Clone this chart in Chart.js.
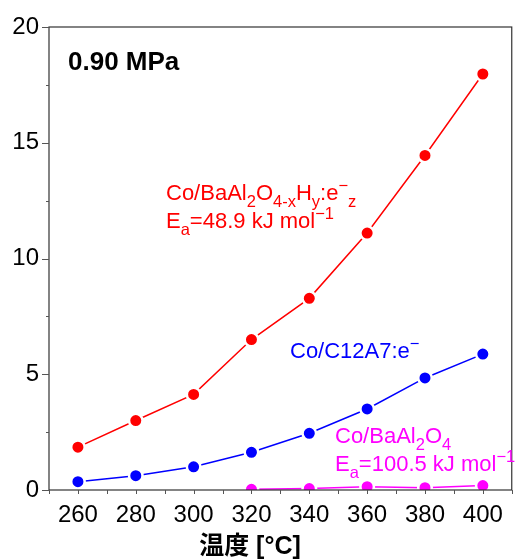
<!DOCTYPE html>
<html>
<head>
<meta charset="utf-8">
<script src="https://cdn.jsdelivr.net/npm/chart.js@4"></script>
<style>
  body { margin: 0; background: #fff; }
  #wrap { width: 521px; height: 560px; }
</style>
</head>
<body>
<div id="wrap"><canvas id="graph" width="521" height="560"></canvas></div>
<script>
const ctx = document.getElementById('graph').getContext('2d');

// Data
const temps = [260, 280, 300, 320, 340, 360, 380, 400];
const hydrideVals = [1.85, 3.0, 4.13, 6.5, 8.28, 11.1, 14.45, 17.97];   // Co/BaAl2O4-xHy:e-z
const c12a7Vals = [0.36, 0.62, 1.0, 1.63, 2.45, 3.5, 4.84, 5.87];       // Co/C12A7:e-
const oxideTemps = [320, 340, 360, 380, 400];
const oxideVals = [0.03, 0.06, 0.14, 0.1, 0.19];                          // Co/BaAl2O4
const xTicks = [260, 280, 300, 320, 340, 360, 380, 400];
const yTicks = [0, 5, 10, 15, 20];

const FONT = '"Liberation Sans", Arial, "Noto Sans CJK JP", sans-serif';

function pts(xs, ys) {
    return xs.map((x, i) => ({ x: x, y: ys[i] }));
}

function series(label, data, color) {
    return {
        label: label,
        data: data,
        borderColor: color,
        backgroundColor: color,
        borderWidth: 1.5,
        pointRadius: 6.75,
        pointBorderWidth: 2.5,
        pointBorderColor: '#fff',
        pointBackgroundColor: color,
        tension: 0,
    };
}

// draws text with sub / superscript runs
function drawRich(c, x, y, parts, color, size) {
    let cx = x;
    c.fillStyle = color;
    c.textBaseline = 'alphabetic';
    c.textAlign = 'left';
    parts.forEach(p => {
        const t = p[0], mode = p[1] || '';
        let s = size, dy = 0;
        if (mode === 'sub') { s = size * 0.75; dy = size * 0.3; }
        if (mode === 'sup') { s = size * 0.75; dy = -size * 0.4; }
        c.font = s + 'px ' + FONT;
        c.fillText(t, cx, y + dy);
        cx += c.measureText(t).width;
    });
}

const decorations = {
    id: 'decorations',
    afterDraw(chart) {
        const c = chart.ctx;
        const a = chart.chartArea;
        const xs = chart.scales.x, ys = chart.scales.y;
        c.save();

        // frame
        c.strokeStyle = '#333';
        c.lineWidth = 1.2;
        c.strokeRect(a.left, a.top, a.right - a.left, a.bottom - a.top);

        // y ticks: major outward 7px, minor 3px
        c.strokeStyle = '#555';
        c.lineWidth = 1;
        for (let v = 0; v <= 20; v += 2.5) {
            const py = Math.round(ys.getPixelForValue(v)) + 0.5;
            const len = (v % 5 === 0) ? 7 : 3;
            c.beginPath();
            c.moveTo(a.left - len, py);
            c.lineTo(a.left, py);
            c.stroke();
        }
        // x ticks every 10, pointing down
        for (let v = 250; v <= 410; v += 10) {
            const px = Math.round(xs.getPixelForValue(v)) + 0.5;
            c.beginPath();
            c.moveTo(px, a.bottom);
            c.lineTo(px, a.bottom + 4);
            c.stroke();
        }

        // pressure label
        c.fillStyle = '#000';
        c.font = 'bold 26px ' + FONT;
        c.textBaseline = 'alphabetic';
        c.fillText('0.90 MPa', 68, 70);

        // x axis title
        c.font = 'bold 25px ' + FONT;
        c.textAlign = 'center';
        c.textBaseline = 'middle';
        c.fillText('温度 [°C]', 250, 547);

        // series annotations
        drawRich(c, 166, 200, [['Co/BaAl'], ['2', 'sub'], ['O'], ['4-x', 'sub'], ['H'], ['y', 'sub'], [':e'], ['\u2212', 'sup'], ['z', 'sub']], '#ff0000', 22);
        drawRich(c, 166, 228, [['E'], ['a', 'sub'], ['=48.9 kJ mol'], ['\u22121', 'sup']], '#ff0000', 22);
        drawRich(c, 290, 358, [['Co/C12A7:e'], ['\u2212', 'sup']], '#0000ff', 22);
        drawRich(c, 335, 443, [['Co/BaAl'], ['2', 'sub'], ['O'], ['4', 'sub']], '#ff00ff', 22);
        drawRich(c, 335, 471, [['E'], ['a', 'sub'], ['=100.5 kJ mol'], ['\u22121', 'sup']], '#ff00ff', 22);

        c.restore();
    }
};

const chart = new Chart(ctx, {
    type: 'line',
    data: {
        datasets: [
            series('Co/BaAl2O4-xHy:e-z', pts(temps, hydrideVals), '#ff0000'),
            series('Co/C12A7:e-', pts(temps, c12a7Vals), '#0000ff'),
            series('Co/BaAl2O4', pts(oxideTemps, oxideVals), '#ff00ff'),
        ],
    },
    options: {
        responsive: false,
        animation: false,
        layout: { padding: { top: 27, right: 9, left: 0, bottom: 0 } },
        plugins: {
            legend: { display: false },
            tooltip: { enabled: false },
        },
        scales: {
            x: {
                type: 'linear',
                min: 250,
                max: 410,
                afterBuildTicks: s => { s.ticks = xTicks.map(v => ({ value: v })); },
                afterFit: s => { s.height = 70; },
                grid: { display: false, drawTicks: false },
                border: { display: false },
                ticks: {
                    color: '#000',
                    padding: 11,
                    maxRotation: 0,
                    font: { family: FONT, size: 24 },
                },
            },
            y: {
                min: 0,
                max: 20,
                afterBuildTicks: s => { s.ticks = yTicks.map(v => ({ value: v })); },
                afterFit: s => { s.width = 49; },
                grid: { display: false, drawTicks: false },
                border: { display: false },
                ticks: {
                    color: '#000',
                    padding: 10,
                    font: { family: FONT, size: 24 },
                },
            },
        },
    },
    plugins: [decorations],
});
</script>
</body>
</html>
